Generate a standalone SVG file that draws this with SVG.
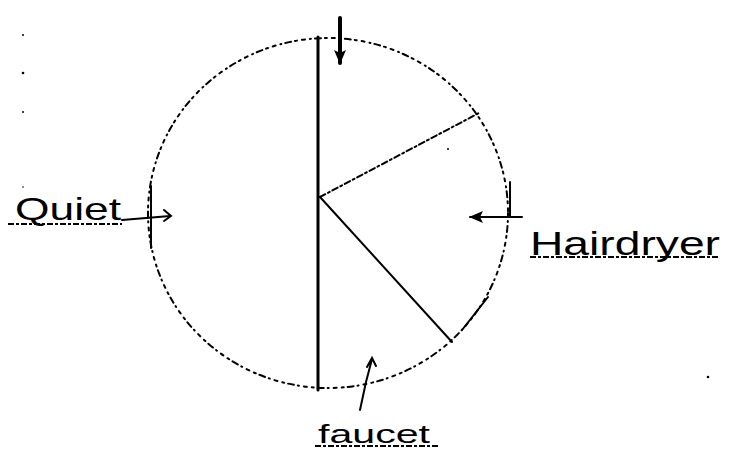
<svg xmlns="http://www.w3.org/2000/svg" width="740" height="457" viewBox="0 0 740 457">
<defs>
<style>
.dotted{fill:none;stroke:#000;stroke-width:2;stroke-linecap:round;stroke-dasharray:3 5 1 4 6 4 2 5}
.solid{fill:none;stroke:#000;stroke-width:2;stroke-linecap:round}
.thick{fill:none;stroke:#000;stroke-width:3;stroke-linecap:round}
.lbl{font-family:"Liberation Sans",Arial,sans-serif;fill:#000}
.ul{fill:none;stroke:#000;stroke-width:2;stroke-dasharray:6 2 3 2}
.dot{fill:#000}
</style>
<marker id="head" markerWidth="14" markerHeight="12" refX="13" refY="6" orient="auto" markerUnits="userSpaceOnUse">
<path d="M0,0 L14,6 L0,12 L3,6 Z" fill="#000"/>
</marker>
</defs>
<rect width="740" height="457" fill="#fff"/>

<g id="circle">
<ellipse class="dotted" cx="328" cy="213" rx="180" ry="175"/>
<line class="solid" x1="151" y1="186" x2="151" y2="248"/>
<line class="solid" x1="510" y1="182" x2="510" y2="217"/>
<line class="solid" x1="462" y1="330" x2="488" y2="297"/>
</g>

<g id="spokes">
<line class="thick" x1="318" y1="37" x2="318" y2="390"/>
<line class="dotted" x1="320" y1="197" x2="479" y2="113" style="stroke-dasharray:6 3 2 3"/>
<line class="solid" x1="320" y1="197" x2="452" y2="342"/>
</g>

<g id="connectors">
<line x1="340" y1="18" x2="340" y2="63" stroke="#000" stroke-width="4" stroke-linecap="round" marker-end="url(#head)"/>
<line class="solid" x1="522" y1="217" x2="470" y2="217" marker-end="url(#head)"/>
<path class="solid" d="M360,410 L366,382 L372,359 M367,367 L372,358 L376,366"/>
<path class="solid" d="M122,220 L170,216 M164,210 L171,216 L164,221"/>
</g>

<g id="quiet">
<text class="lbl" x="15" y="220" font-size="32" textLength="106" lengthAdjust="spacingAndGlyphs">Quiet</text>
<line class="ul" x1="8" y1="224" x2="122" y2="224"/>
</g>

<g id="hairdryer">
<text class="lbl" x="530" y="255" font-size="34" textLength="190" lengthAdjust="spacingAndGlyphs">Hairdryer</text>
<line class="ul" x1="530" y1="257" x2="720" y2="257"/>
</g>

<g id="faucet">
<text class="lbl" x="318" y="443" font-size="26" textLength="112" lengthAdjust="spacingAndGlyphs">faucet</text>
<line class="ul" x1="315" y1="446" x2="440" y2="446"/>
</g>

<g id="specks">
<circle class="dot" cx="23" cy="35" r="1"/>
<circle class="dot" cx="23" cy="73" r="1.3"/>
<circle class="dot" cx="23" cy="112" r="1"/>
<circle class="dot" cx="23" cy="187" r="0.8"/>
<circle class="dot" cx="448" cy="149" r="1"/>
<circle class="dot" cx="708" cy="377" r="1.3"/>
</g>
</svg>
